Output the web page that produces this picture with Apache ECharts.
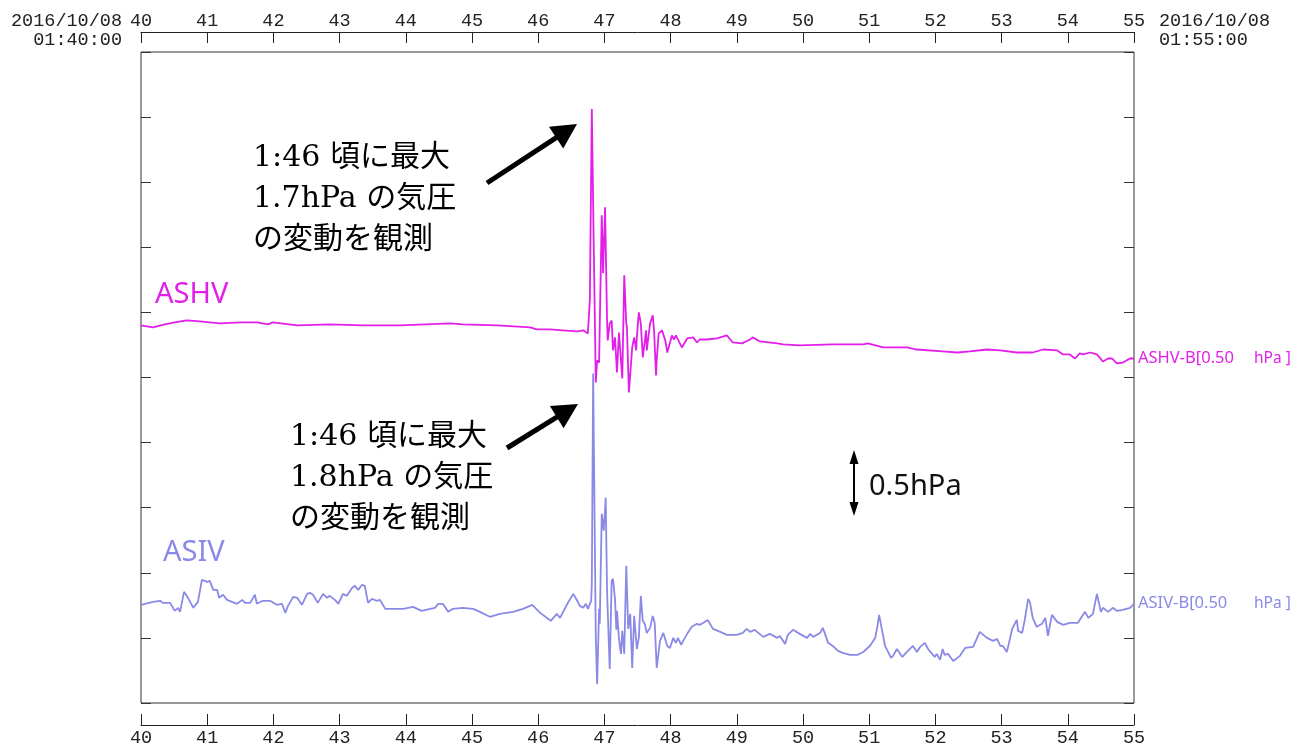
<!DOCTYPE html>
<html><head><meta charset="utf-8">
<script src="https://cdn.jsdelivr.net/npm/echarts@6/dist/echarts.min.js"></script>
<style>html,body{margin:0;padding:0;background:#fff}#c{width:1292px;height:745px}</style>
</head><body><div id="c"></div>
<script>
// ---- axis definition ----
const xMin = 40, xMax = 55, xStep = 1;          // minutes after 01:00
const yMin = 0, yMax = 5, yStep = 0.5;          // hPa (unlabelled, 0.5 hPa per tick)
const startStamp = ['2016/10/08', '01:40:00'];
const endStamp = ['2016/10/08', '01:55:00'];

// ---- ASHV (minutes, hPa) ----
const ashvTime = [40.00,40.18,40.36,40.51,40.69,40.89,41.19,41.50,41.75,41.92,
41.99,42.36,42.85,43.35,43.91,44.67,44.86,45.38,45.88,45.98,
46.18,46.37,46.59,46.68,46.75,46.78,46.81,46.84,46.87,46.89,
46.92,46.96,46.98,47.01,47.04,47.05,47.08,47.11,47.13,47.16,
47.19,47.22,47.27,47.30,47.33,47.34,47.37,47.42,47.45,47.48,
47.49,47.52,47.55,47.58,47.63,47.64,47.69,47.73,47.75,47.78,
47.79,47.82,47.87,47.92,47.95,48.02,48.05,48.08,48.17,48.25,
48.34,48.40,48.44,48.55,48.70,48.85,48.94,49.08,49.20,49.24,
49.35,49.61,49.70,49.95,50.45,50.91,50.98,51.21,51.57,51.72,
52.11,52.33,52.52,52.78,52.98,53.23,53.47,53.63,53.84,53.93,
54.03,54.11,54.18,54.23,54.34,54.44,54.53,54.61,54.67,54.74,
54.83,54.94,55.00];
const ashvHpa = [2.900,2.885,2.908,2.923,2.938,2.931,2.915,2.923,2.923,2.908,
2.923,2.900,2.908,2.900,2.900,2.915,2.908,2.900,2.885,2.869,
2.869,2.862,2.854,2.862,2.838,3.092,4.562,3.477,2.462,2.631,
2.615,3.746,3.300,3.808,2.938,2.785,2.915,2.938,2.708,2.808,
2.538,2.846,2.492,3.285,2.915,2.885,2.385,2.731,2.808,2.708,
2.808,3.000,2.915,2.654,2.862,2.708,2.915,2.977,2.862,2.515,
2.631,2.838,2.862,2.785,2.692,2.823,2.792,2.823,2.731,2.800,
2.808,2.769,2.792,2.792,2.800,2.823,2.769,2.762,2.792,2.808,
2.777,2.762,2.754,2.746,2.754,2.754,2.762,2.731,2.731,2.715,
2.700,2.692,2.700,2.715,2.708,2.692,2.692,2.715,2.708,2.677,
2.677,2.646,2.685,2.677,2.692,2.677,2.623,2.646,2.646,2.608,
2.615,2.646,2.646];

// ---- ASIV (minutes, hPa) ----
const asivTime = [40.00,40.18,40.29,40.33,40.44,40.51,40.56,40.59,40.65,40.71,
40.79,40.86,40.92,41.00,41.04,41.09,41.15,41.18,41.24,41.30,
41.45,41.53,41.57,41.65,41.72,41.75,41.84,41.95,42.05,42.13,
42.18,42.22,42.30,42.36,42.43,42.51,42.55,42.60,42.63,42.67,
42.75,42.81,42.85,42.93,42.98,43.05,43.11,43.19,43.23,43.28,
43.34,43.38,43.43,43.49,43.56,43.61,43.69,43.81,43.96,44.11,
44.24,44.37,44.44,44.49,44.56,44.64,44.71,44.86,45.02,45.12,
45.27,45.42,45.62,45.77,45.91,46.03,46.19,46.28,46.33,46.44,
46.53,46.59,46.63,46.68,46.72,46.75,46.80,46.81,46.83,46.84,
46.87,46.89,46.92,46.93,46.96,46.99,47.02,47.04,47.08,47.11,
47.13,47.16,47.18,47.19,47.22,47.25,47.27,47.30,47.33,47.36,
47.39,47.42,47.45,47.49,47.52,47.55,47.58,47.61,47.64,47.69,
47.73,47.76,47.79,47.84,47.89,47.95,47.99,48.02,48.04,48.08,
48.11,48.16,48.19,48.25,48.32,48.40,48.44,48.49,48.56,48.64,
48.75,48.85,49.00,49.09,49.15,49.20,49.27,49.40,49.50,49.61,
49.65,49.73,49.77,49.85,49.95,50.06,50.11,50.15,50.26,50.30,
50.38,50.45,50.53,50.60,50.71,50.82,50.91,51.01,51.09,51.12,
51.15,51.19,51.24,51.27,51.33,51.36,51.42,51.50,51.57,51.66,
51.72,51.77,51.84,51.89,51.95,51.99,52.02,52.07,52.11,52.14,
52.19,52.27,52.37,52.45,52.57,52.67,52.78,52.87,52.93,52.98,
53.02,53.08,53.16,53.23,53.25,53.31,53.35,53.40,53.43,53.47,
53.53,53.61,53.66,53.70,53.76,53.84,53.93,54.03,54.15,54.26,
54.31,54.38,54.44,54.50,54.53,54.61,54.68,54.74,54.83,54.94,
55.00];
const asivHpa = [0.754,0.777,0.785,0.769,0.769,0.708,0.731,0.700,0.854,0.808,
0.731,0.777,0.946,0.931,0.938,0.869,0.869,0.808,0.831,0.792,
0.762,0.792,0.769,0.769,0.831,0.762,0.785,0.785,0.754,0.762,
0.692,0.746,0.815,0.808,0.754,0.838,0.846,0.831,0.838,0.769,
0.838,0.808,0.823,0.792,0.762,0.838,0.823,0.885,0.900,0.869,
0.908,0.900,0.769,0.800,0.785,0.792,0.723,0.723,0.723,0.738,
0.708,0.723,0.731,0.762,0.762,0.700,0.723,0.731,0.723,0.700,
0.662,0.685,0.700,0.723,0.754,0.692,0.631,0.685,0.654,0.762,
0.838,0.785,0.746,0.731,0.762,0.723,0.785,0.915,2.531,2.531,
0.500,0.146,0.723,0.608,1.454,1.323,1.577,0.862,0.262,0.938,
0.954,0.800,0.562,0.708,0.492,0.377,0.554,0.377,1.054,0.569,
0.685,0.269,0.669,0.415,0.500,0.823,0.631,0.608,0.538,0.577,
0.669,0.615,0.269,0.477,0.538,0.438,0.423,0.415,0.500,0.462,
0.500,0.446,0.477,0.531,0.585,0.608,0.600,0.615,0.638,0.569,
0.546,0.523,0.523,0.538,0.569,0.546,0.562,0.508,0.531,0.500,
0.515,0.454,0.523,0.562,0.531,0.500,0.531,0.508,0.538,0.577,
0.462,0.438,0.400,0.385,0.369,0.369,0.392,0.438,0.500,0.577,
0.677,0.569,0.438,0.423,0.346,0.362,0.415,0.354,0.392,0.438,
0.392,0.431,0.462,0.415,0.377,0.354,0.377,0.331,0.415,0.369,
0.377,0.323,0.362,0.423,0.431,0.546,0.500,0.477,0.492,0.438,
0.438,0.392,0.569,0.638,0.554,0.538,0.638,0.800,0.769,0.654,
0.585,0.608,0.654,0.515,0.677,0.623,0.600,0.615,0.615,0.700,
0.654,0.685,0.838,0.700,0.731,0.700,0.731,0.708,0.715,0.731,
0.762];

// ---- texts ----
const seriesNames = ['ASHV', 'ASIV'];
const endTags = ['ASHV-B[0.50', 'ASIV-B[0.50'];
const unitTag = 'hPa ]';
const note1 = ['1:46 頃に最大', '1.7hPa の気圧', 'の変動を観測'];
const note2 = ['1:46 頃に最大', '1.8hPa の気圧', 'の変動を観測'];
const scaleText = '0.5hPa';

// ---- styling ----
const C_ASHV = '#e21fe9', C_ASIV = '#8a8ae6';
const monoFont = '"Liberation Mono", "DejaVu Sans Mono", monospace';
const sansFont = '"Noto Sans", "Open Sans", sans-serif';
const noteFont = '"DejaVu Serif", "Noto Sans CJK JP", serif';

const zip = (t, v) => t.map((x, i) => [x, v[i]]);

function xAx(pos, offset, margin) {
  return {
    type: 'value', min: xMin, max: xMax, interval: xStep, position: pos, offset: offset,
    axisLine: { show: true, onZero: false, lineStyle: { color: '#222', width: 1 } },
    axisTick: { show: true, inside: true, length: 11, lineStyle: { color: '#222', width: 1 } },
    axisLabel: { show: true, margin: margin, fontFamily: monoFont, fontSize: 18.5, color: '#222',
      showMinLabel: true, showMaxLabel: true, formatter: v => String(v) },
    splitLine: { show: false }
  };
}
function yAx(pos) {
  return {
    type: 'value', min: yMin, max: yMax, interval: yStep, position: pos,
    axisLine: { show: false },
    axisTick: { show: true, inside: true, length: 10, lineStyle: { color: '#333', width: 1 } },
    axisLabel: { show: false }, splitLine: { show: false }
  };
}
function endLabel(tag, color, w) {
  return {
    show: true, distance: 4,
    formatter: '{a|' + tag + '}{b|' + unitTag + '}',
    rich: {
      a: { width: w, fontFamily: sansFont, fontSize: 16.5, color: color },
      b: { fontFamily: sansFont, fontSize: 15.5, color: color }
    }
  };
}
function arrow(x1, y1, x2, y2, w, hl, hw) {
  const dx = x2 - x1, dy = y2 - y1, L = Math.hypot(dx, dy);
  const ux = dx / L, uy = dy / L, nx = -uy, ny = ux;
  const bx = x2 - ux * hl, by = y2 - uy * hl;
  return [
    { type: 'line', silent: true, shape: { x1: x1, y1: y1, x2: bx + ux * 2, y2: by + uy * 2 },
      style: { stroke: '#000', lineWidth: w } },
    { type: 'polygon', silent: true,
      shape: { points: [[x2, y2], [bx + nx * hw, by + ny * hw], [bx - nx * hw, by - ny * hw]] },
      style: { fill: '#000' } }
  ];
}
function txt(x, y, text, font, color, align, vAlign, lh) {
  return { type: 'text', silent: true, x: x, y: y,
    style: { text: text, font: font, fill: color, align: align, verticalAlign: vAlign, lineHeight: lh } };
}

const chart = echarts.init(document.getElementById('c'), null, { renderer: 'canvas' });
chart.setOption({
  animation: false,
  backgroundColor: '#fff',
  grid: { left: 141, right: 158, top: 52, bottom: 42, show: true, borderColor: '#333', borderWidth: 1,
    backgroundColor: 'transparent', containLabel: false, outerBoundsMode: 'none' },
  xAxis: [xAx('bottom', 22, 4), xAx('top', 20, 1)],
  yAxis: [yAx('left'), yAx('right')],
  series: [
    { type: 'line', name: seriesNames[0], xAxisIndex: 0, yAxisIndex: 0, data: zip(ashvTime, ashvHpa),
      symbol: 'none', showSymbol: false, lineStyle: { color: C_ASHV, width: 1.8 }, itemStyle: { color: C_ASHV },
      endLabel: endLabel(endTags[0], C_ASHV, 116) },
    { type: 'line', name: seriesNames[1], xAxisIndex: 0, yAxisIndex: 0, data: zip(asivTime, asivHpa),
      symbol: 'none', showSymbol: false, lineStyle: { color: C_ASIV, width: 1.8 }, itemStyle: { color: C_ASIV },
      endLabel: endLabel(endTags[1], C_ASIV, 116) }
  ],
  graphic: [
    txt(122, 11.5, startStamp.join('\n'), '18.5px ' + monoFont, '#222', 'right', 'top', 19),
    txt(1159, 11.5, endStamp.join('\n'), '18.5px ' + monoFont, '#222', 'left', 'top', 19),
    txt(155, 295, seriesNames[0], '29px ' + sansFont, C_ASHV, 'left', 'middle', 34),
    txt(163, 553, seriesNames[1], '29px ' + sansFont, C_ASIV, 'left', 'middle', 34),
    txt(869, 487, scaleText, '29px ' + sansFont, '#111', 'left', 'middle', 34),
    txt(253, 137.5, note1.join('\n'), '30px ' + noteFont, '#000', 'left', 'top', 41),
    txt(290, 416.5, note2.join('\n'), '30px ' + noteFont, '#000', 'left', 'top', 41),
    ...arrow(487, 183, 577, 124, 5, 25, 13),
    ...arrow(507, 448, 578, 404, 5, 25, 13),
    ...arrow(854, 484, 854, 450, 2, 14, 4.5),
    ...arrow(854, 484, 854, 516, 2, 14, 4.5)
  ]
});
</script>
</body></html>
